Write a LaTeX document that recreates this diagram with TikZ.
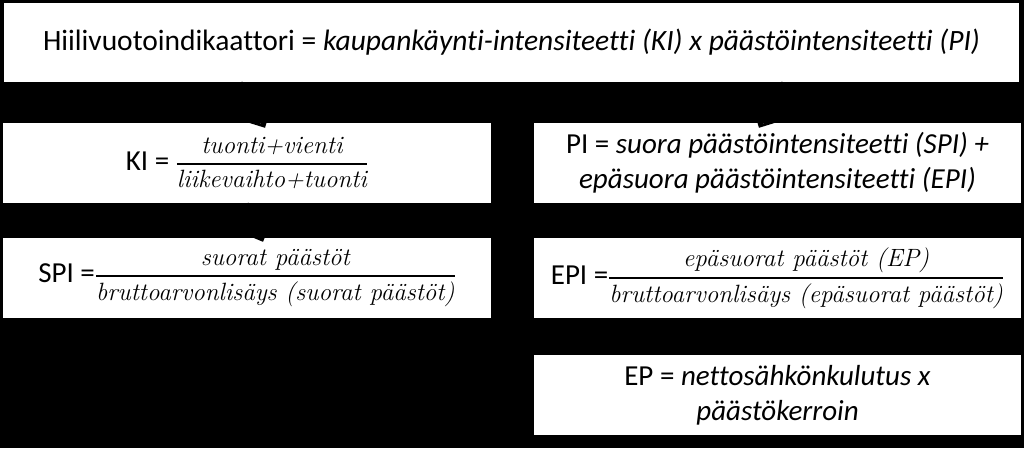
\documentclass[tikz,border=0pt]{standalone}
\usepackage{fontspec}
\newfontfamily\calib{Carlito}[Ligatures=NoCommon]
\usetikzlibrary{arrows.meta}
\tikzset{
  box/.style={fill=white, draw=none, inner sep=0pt, align=center, text=black,
    font=\calib\fontsize{29}{35}\selectfont},
  arr/.style={draw=black, line width=3pt, -{Straight Barb[length=11pt,width=22pt]}},
}
\newcommand{\frtxt}{\rmfamily\itshape\fontsize{25}{25}\selectfont\addfontfeature{FakeBold=1.2}}
\newcommand{\fr}[2]{$\displaystyle{\mbox{\frtxt #1}\above 1.6pt\mbox{\frtxt #2}}$}
\begin{document}
\begin{tikzpicture}[x=1pt,y=-1pt]
\fill[black] (0,0) rectangle (1024,448);
\useasboundingbox (0,0) rectangle (1024,448);
\node[box, minimum width=1015pt, minimum height=79pt, font=\calib\fontsize{29.5}{30}\selectfont] (top) at (511.5,42.5)
  {Hiilivuotoindikaattori = \textit{kaupankäynti-intensiteetti (KI) x päästöintensiteetti (PI)}};
\node[box, minimum width=488pt, minimum height=80pt] (ki) at (247,163)
  {KI = \fr{tuonti+vienti}{liikevaihto+tuonti}};
\node[box, minimum width=487pt, minimum height=80pt] (pi) at (777.5,163)
  {PI = \textit{suora päästöintensiteetti (SPI) +}\\ \textit{epäsuora päästöintensiteetti (EPI)}};
\node[box, minimum width=488pt, minimum height=80pt] (spi) at (247,278)
  {SPI =\fr{suorat päästöt}{bruttoarvonlisäys (suorat päästöt)}};
\node[box, minimum width=487pt, minimum height=80pt] (epi) at (777.5,278)
  {EPI =\fr{epäsuorat päästöt (EP)}{bruttoarvonlisäys (epäsuorat päästöt)}};
\node[box, minimum width=487pt, minimum height=80pt] (ep) at (777.5,395)
  {EP = \textit{nettosähkönkulutus x}\\ \textit{päästökerroin}};
\draw[arr] ([xshift=-270.5pt]top.south) -- ([shift={(18,5)}]ki.north);
\draw[arr] ([xshift=271.5pt]top.south) -- ([shift={(-18.5,5)}]pi.north);
\draw[arr] (ki.south) -- ([shift={(16,4)}]spi.north);
\end{tikzpicture}
\end{document}
